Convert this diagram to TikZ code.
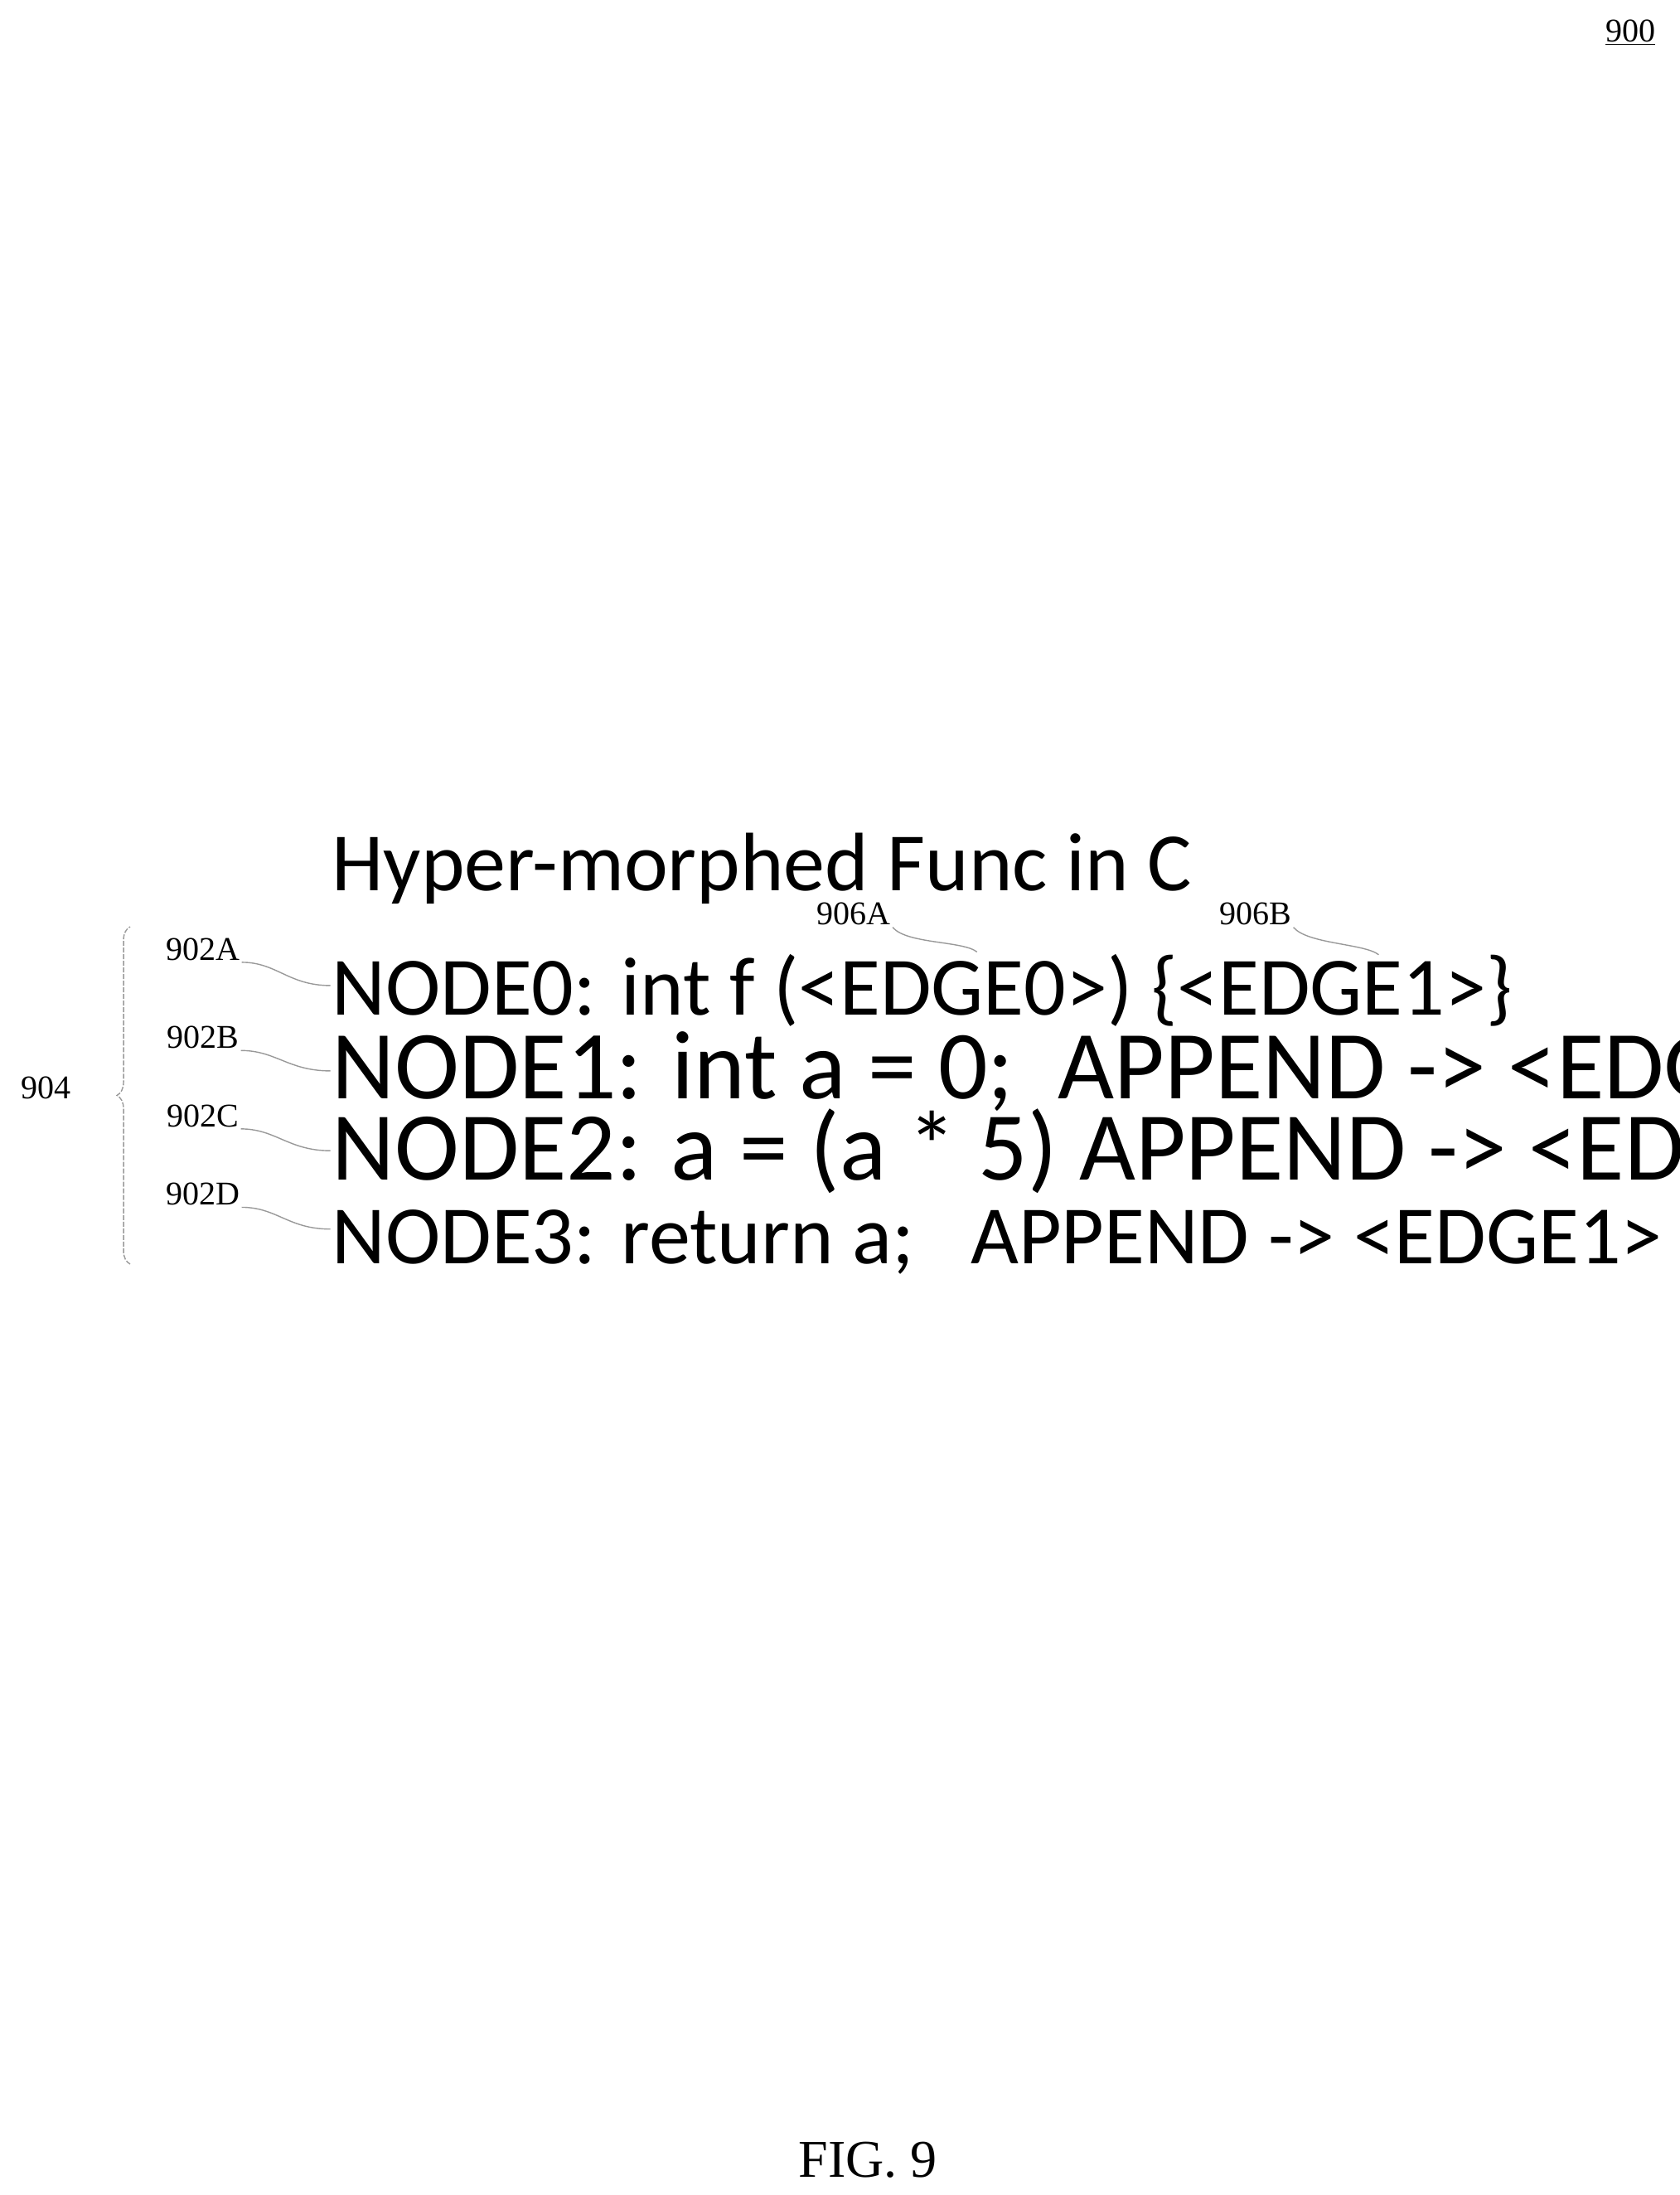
\documentclass[tikz,border=0pt]{standalone}
\usepackage{fontspec}
\setmainfont{Liberation Serif}
\newfontfamily\calfnt{Carlito}
\usetikzlibrary{decorations.pathreplacing}
\begin{document}
\begin{tikzpicture}[x=0.844pt,y=-0.844pt,
  big/.style={font=\calfnt\fontsize{50}{50}\selectfont,anchor=base west,inner sep=0},
  lab/.style={font=\fontsize{20}{20}\selectfont,inner sep=1pt},
  lead/.style={draw=gray!80,line width=0.7pt}]
\useasboundingbox (0,0) rectangle (1200,1568);
\node[font=\fontsize{20}{20}\selectfont,anchor=base] (n900) at (1165,30) {\underline{900}};
\node[big] (t) at (237,636) {Hyper-morphed Func in C};
\node[big] (l0) at (237,725) {NODE0: int f (<EDGE0>) \{<EDGE1>\}};
\node[big] (l1) at (237,785) {\resizebox{928pt}{!}{NODE1: int a = 0;\ \ APPEND -> <EDGE1>}};
\node[big] (l2) at (237,843) {\resizebox{940pt}{!}{NODE2: a = (a * 5) APPEND -> <EDGE1>}};
\node[big] (l3) at (237,903) {NODE3: return a;\ \ \ APPEND -> <EDGE1>};
\node[lab] (a) at (145,678) {902A};
\node[lab] (b) at (145,741) {902B};
\node[lab] (c) at (145,797) {902C};
\node[lab] (d) at (145,853) {902D};
\node[lab] (e) at (610,653) {906A};
\node[lab] (f) at (897,653) {906B};
\node[lab] (g) at (33,777) {904};
\coordinate (ae) at (236,704);
\coordinate (be) at (236,765);
\coordinate (ce) at (236,822);
\coordinate (de) at (236,878);
\coordinate (ee) at (698,680);
\coordinate (fe) at (985,682);
\foreach \s/\t in {a/ae,b/be,c/ce,d/de}
  \draw[lead] (\s.south east) .. controls ([shift={(25,0)}]\s.south east) and ([shift={(-30,0)}]\t) .. (\t);
\foreach \s/\t in {e/ee,f/fe}
  \draw[lead] (\s.south east) .. controls ([shift={(10,12)}]\s.south east) and ([shift={(-10,-8)}]\t) .. (\t);
\coordinate (bt) at (93,662);
\coordinate (bb) at (93,903);
\draw[lead,dash pattern=on 3pt off 1pt,decorate,decoration={brace,amplitude=8pt}] (bb) -- (bt);
\node[font=\fontsize{32}{32}\selectfont] (fig) at (620,1543) {FIG. 9};
\end{tikzpicture}
\end{document}
